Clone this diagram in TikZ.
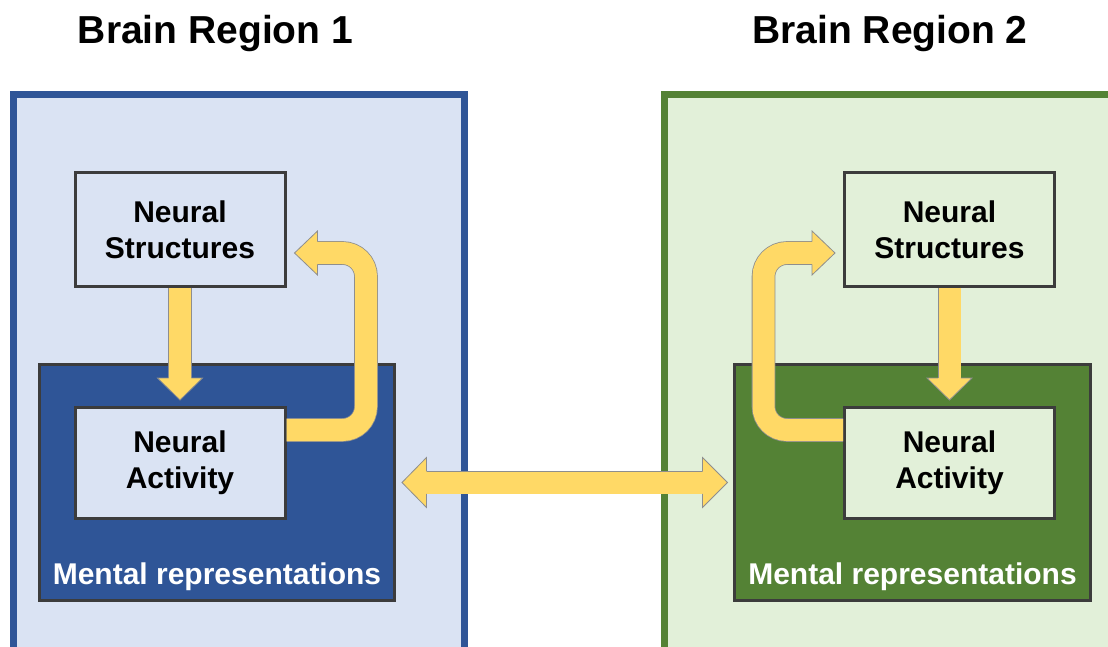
\documentclass[tikz,border=0pt]{standalone}
\usepackage{fontspec}
\setmainfont{Liberation Sans}
\usetikzlibrary{calc}
\definecolor{paleblue}{HTML}{DAE3F3}
\definecolor{deepblue}{HTML}{2F5597}
\definecolor{palegreen}{HTML}{E2F0D9}
\definecolor{deepgreen}{HTML}{548235}
\definecolor{boxedge}{HTML}{3C3C3C}
\definecolor{arrowfill}{HTML}{FFD966}
\definecolor{arrowedge}{HTML}{8E8E8E}
\begin{document}
\begin{tikzpicture}[x=1pt,y=1pt,
  region/.style={draw=#1, line width=7pt, inner sep=0pt, outer sep=0pt,
    minimum height=556pt},
  mental/.style={draw=boxedge, fill=#1, line width=3pt, inner sep=0pt,
    outer sep=1.5pt, minimum height=236pt},
  stage/.style={draw=boxedge, fill=#1, line width=3pt, inner sep=0pt,
    outer sep=1.5pt, minimum width=210pt, align=center,
    font=\fontsize{30}{36}\selectfont\bfseries},
  title/.style={font=\fontsize{39}{47}\selectfont\bfseries, inner sep=0pt},
  mrtext/.style={text=white, font=\fontsize{30}{36}\selectfont\bfseries, inner sep=0pt},
  shaft/.style={line width=0.8pt, draw=arrowedge, double=arrowfill,
    double distance=22pt},
  head/.style={fill=arrowfill, draw=arrowedge, line width=0.8pt, line join=miter}]
\useasboundingbox (0,0) rectangle (1108,646);

% brain regions
\node[region=deepblue, fill=paleblue, minimum width=451pt] (r1) at (239,273) {};
\node[region=deepgreen, fill=palegreen, minimum width=449pt] (r2) at (889,273) {};

\node[title] (t1) at (215.5,612) {Brain Region 1};
\node[title] (t2) at (890,612) {Brain Region 2};

% mental representation panels
\node[mental=deepblue, minimum width=355pt] (mr1) at (217,163.5) {};
\node[mental=deepgreen, minimum width=356pt] (mr2) at (912.5,163.5) {};
\node[mrtext] (m1) at (217,69.5) {Mental representations};
\node[mrtext] (m2) at (912.5,69.5) {Mental representations};

% structure and activity boxes
\node[stage=paleblue, minimum height=114pt] (ns1) at (180,416.5) {Neural\\Structures};
\node[stage=paleblue, minimum height=111pt] (na1) at (180,183) {Neural\\Activity};
\node[stage=palegreen, minimum height=114pt] (ns2) at (949.5,416.5) {Neural\\Structures};
\node[stage=palegreen, minimum height=111pt] (na2) at (949.5,183) {Neural\\Activity};

% structures -> activity
\foreach \s/\a in {ns1/na1, ns2/na2}{
  \draw[shaft] (\s.south) -- ($(\a.north)+(0,27)$);
  \filldraw[head] ($(\a.north)+(-11.4,28)$) -- ($(\a.north)+(-22.5,28)$)
    -- ($(\a.north)+(0,6)$) -- ($(\a.north)+(22.5,28)$) -- ($(\a.north)+(11.4,28)$);
}

% activity -> structures feedback (left region)
\draw[shaft, rounded corners=23.5pt] ($(na1.north east)+(0,-24)$)
  -- ($(na1.north east)+(79.5,-24)$) -- ($(ns1.east)+(79.5,-23.5)$)
  -- ($(ns1.east)+(30,-23.5)$);
\filldraw[head] ($(ns1.east)+(31,-12.1)$) -- ($(ns1.east)+(31,-1.5)$)
  -- ($(ns1.east)+(8,-23.5)$) -- ($(ns1.east)+(31,-45.5)$) -- ($(ns1.east)+(31,-34.9)$);

% activity -> structures feedback (right region)
\draw[shaft, rounded corners=23.5pt] ($(na2.north west)+(0,-24)$)
  -- ($(na2.north west)+(-79.5,-24)$) -- ($(ns2.west)+(-79.5,-23.5)$)
  -- ($(ns2.west)+(-30,-23.5)$);
\filldraw[head] ($(ns2.west)+(-31,-12.1)$) -- ($(ns2.west)+(-31,-1.5)$)
  -- ($(ns2.west)+(-8,-23.5)$) -- ($(ns2.west)+(-31,-45.5)$) -- ($(ns2.west)+(-31,-34.9)$);

% exchange between the two regions
\draw[shaft] ($(mr1.east)+(29.5,0)$) -- ($(mr2.west)+(-29.5,0)$);
\filldraw[head] ($(mr1.east)+(30.5,11.4)$) -- ($(mr1.east)+(30.5,25)$)
  -- ($(mr1.east)+(6,0)$) -- ($(mr1.east)+(30.5,-25)$) -- ($(mr1.east)+(30.5,-11.4)$);
\filldraw[head] ($(mr2.west)+(-30.5,11.4)$) -- ($(mr2.west)+(-30.5,25)$)
  -- ($(mr2.west)+(-5.5,0)$) -- ($(mr2.west)+(-30.5,-25)$) -- ($(mr2.west)+(-30.5,-11.4)$);
\end{tikzpicture}
\end{document}
